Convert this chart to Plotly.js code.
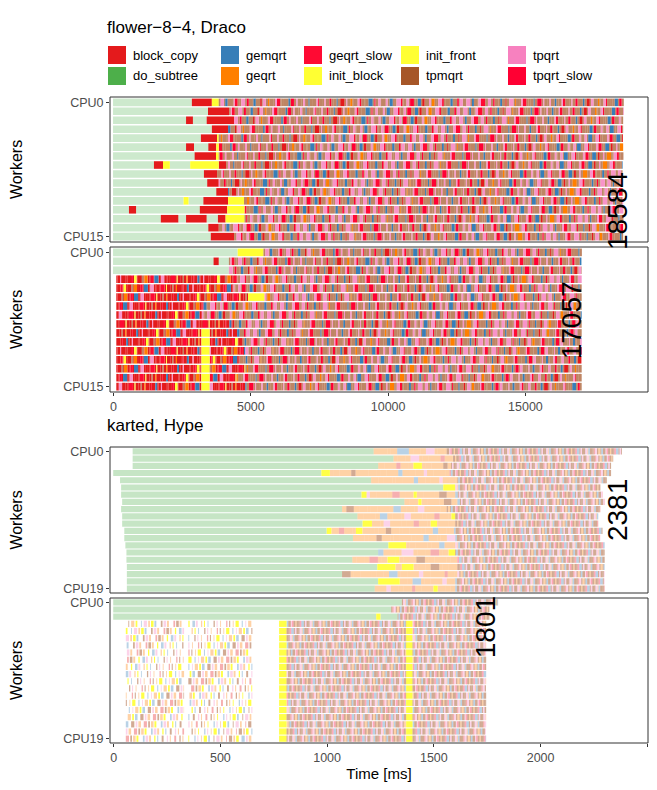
<!DOCTYPE html>
<html>
<head>
<meta charset="utf-8">
<script src="https://cdn.plot.ly/plotly-3.0.1.min.js"></script>
<style>body{margin:0}#plot{width:657px;height:790px}</style>
</head>
<body>
<div id="plot"></div>
<script>
// kernels
const kernelNames = ['block_copy', 'do_subtree', 'gemqrt', 'geqrt', 'geqrt_slow', 'init_block', 'init_front', 'tpmqrt', 'tpqrt', 'tpqrt_slow'];
const kernelCodes = ['b', 'd', 'm', 'g', 's', 'i', 'f', 't', 'p', 'q'];
const kernelColors = ['#E41A1C', '#4DAF4A', '#377EB8', '#FF7F00', '#FF0A33', '#FFFF33', '#FFFF33', '#A65628', '#F781BF', '#FF0033'];

// repeating kernel texture for dense phases (letters = kernel codes, '_' = idle)
const mixM = 'tptmttpsttptqttmtbtptgttpstttmtqtpt';
const widthM = [70, 120, 45, 90, 160, 60, 35, 110, 80, 50, 140, 65];
const mixR = 'bbsbfbbtbgbbsbmbbpbb';
const widthR = [90, 40, 150, 60, 30, 120, 70, 45];
const mixH = 'ggggmgggpgggbggfgggtgg';
const widthH = [25, 40, 15, 30, 55, 20, 35];
const mixD = 'tpgmttbptgtmtpqtgttsmtpt';
const widthD = [6, 10, 4, 8, 12, 5, 7, 9];
const mixS = 'g_f_m__t_p_g__b_t_g_f__m_p_';
const widthS = [5, 12, 4, 9, 15, 6, 8];

// Draco, flower-8-4: row start and phases [code, end ms]
const dracoAStart = [-20, -20, -20, -20, -20, -20, -20, -20, -20, -20, -20, -20, -20, -20, -20, -20];
const dracoAPhases = [
  [['d', 2850], ['b', 3580], ['f', 3830], ['M', 18584]],
  [['d', 3440], ['b', 4210], ['M', 18584]],
  [['d', 2640], ['b', 2890], ['d', 3390], ['b', 4390], ['M', 18560]],
  [['d', 3580], ['b', 4170], ['M', 18560]],
  [['d', 3180], ['b', 3770], ['f', 3830], ['M', 18550]],
  [['d', 2640], ['b', 2930], ['d', 3450], ['b', 3740], ['f', 3830], ['M', 18560]],
  [['d', 2950], ['b', 3730], ['f', 3830], ['M', 18570]],
  [['d', 1470], ['b', 1800], ['f', 2050], ['d', 2790], ['f', 3830], ['b', 4100], ['M', 18540]],
  [['d', 3290], ['b', 3770], ['M', 18540]],
  [['d', 3410], ['b', 3830], ['M', 18520]],
  [['d', 3740], ['b', 4170], ['M', 18560]],
  [['d', 2550], ['f', 2730], ['d', 3270], ['b', 4170], ['f', 4750], ['M', 18560]],
  [['d', 560], ['b', 820], ['d', 3140], ['b', 4140], ['f', 4770], ['M', 18570]],
  [['d', 1720], ['b', 2360], ['d', 2640], ['b', 3390], ['d', 3800], ['b', 4080], ['f', 4770], ['M', 18570]],
  [['d', 3450], ['b', 3830], ['M', 18560]],
  [['d', 3540], ['b', 4390], ['M', 18560]]
];
const dracoBStart = [-20, -20, -20, 100, 100, 100, 100, 100, 100, 100, 100, 100, 100, 100, 100, 100];
const dracoBPhases = [
  [['d', 4520], ['f', 5460], ['M', 17057]],
  [['d', 3640], ['b', 3830], ['d', 4200], ['M', 17050]],
  [['d', 4200], ['M', 17050]],
  [['R', 4520], ['M', 17050]],
  [['R', 4400], ['M', 17050]],
  [['R', 4900], ['f', 5500], ['M', 17050]],
  [['R', 3270], ['M', 17050]],
  [['R', 3270], ['M', 17050]],
  [['R', 4400], ['M', 17050]],
  [['R', 3200], ['f', 3500], ['R', 4500], ['M', 17050]],
  [['R', 3200], ['f', 3500], ['R', 4700], ['M', 17050]],
  [['R', 3200], ['f', 3500], ['R', 4800], ['M', 17050]],
  [['R', 3200], ['f', 3500], ['R', 4600], ['M', 17050]],
  [['R', 3200], ['f', 3500], ['R', 4800], ['M', 17050]],
  [['R', 3200], ['f', 3500], ['R', 4500], ['M', 17050]],
  [['R', 3200], ['f', 3500], ['R', 4800], ['M', 17050]]
];

// Hype, karted
const hypeAStart = [89, 89, 89, -2, 30, 35, 35, 40, 35, 40, 40, 50, 50, 55, 60, 60, 62, 62, 62, 62];
const hypeAPhases = [
  [['d', 1218], ['H', 1560], ['D', 2381]],
  [['d', 1311], ['H', 1590], ['D', 2340]],
  [['d', 1239], ['H', 1580], ['D', 2330]],
  [['d', 973], ['H', 1580], ['D', 2330]],
  [['d', 1206], ['H', 1600], ['D', 2310]],
  [['d', 1544], ['f', 1600], ['D', 2280]],
  [['d', 1161], ['f', 1185], ['H', 1600], ['D', 2290]],
  [['d', 1362], ['H', 1610], ['D', 2300]],
  [['d', 1070], ['H', 1560], ['D', 2280]],
  [['d', 1142], ['H', 1600], ['D', 2270]],
  [['d', 1166], ['f', 1210], ['H', 1600], ['D', 2270]],
  [['d', 998], ['f', 1020], ['H', 1590], ['D', 2290]],
  [['d', 1121], ['H', 1600], ['D', 2280]],
  [['d', 1287], ['f', 1370], ['H', 1600], ['D', 2300]],
  [['d', 1239], ['H', 1600], ['D', 2300]],
  [['d', 1118], ['H', 1610], ['D', 2300]],
  [['d', 1235], ['f', 1320], ['H', 1610], ['D', 2300]],
  [['d', 1070], ['H', 1610], ['D', 2300]],
  [['d', 1239], ['f', 1340], ['H', 1600], ['D', 2300]],
  [['d', 1223], ['H', 1600], ['D', 2300]]
];
const hypeBStart = [-2, -2, -2, 57, 57, 57, 57, 57, 57, 57, 57, 57, 57, 57, 57, 57, 57, 57, 57, 57];
const sparseRow = [['S', 330], ['_', 350], ['S', 650], ['_', 775], ['f', 810], ['D', 1370], ['f', 1400], ['D', 1745]];
const hypeBPhases = [
  [['d', 1350], ['D', 1801]],
  [['d', 1300], ['D', 1760]],
  [['d', 1230], ['f', 1250], ['d', 1330], ['D', 1760]]
].concat(Array(17).fill(sparseRow));

// legend grid, read column-wise like the reference
const legendCols = [['block_copy', 'do_subtree'], ['gemqrt', 'geqrt'], ['geqrt_slow', 'init_block'], ['init_front', 'tpmqrt'], ['tpqrt', 'tpqrt_slow']];

const mixes = {M: [mixM, widthM], R: [mixR, widthR], H: [mixH, widthH], D: [mixD, widthD], S: [mixS, widthS]};

function segments(starts, phases) {
  const segs = [];
  phases.forEach((ph, r) => {
    let x = starts[r];
    let k = r * 5;
    ph.forEach(([code, end]) => {
      if (mixes[code]) {
        const [seq, ws] = mixes[code];
        while (x < end) {
          const w = ws[k % ws.length];
          const c = seq[k % seq.length];
          const e = Math.min(x + w, end);
          if (c !== '_') segs.push([c, x, e, r]);
          x = e;
          k++;
        }
      } else {
        if (code !== '_') segs.push([code, x, end, r]);
        x = end;
      }
    });
  });
  return segs;
}

function hexA(hex, a) {
  const n = parseInt(hex.slice(1), 16);
  return 'rgba(' + (n >> 16) + ',' + ((n >> 8) & 255) + ',' + (n & 255) + ',' + a + ')';
}

const traces = [];
function panel(starts, phases, xa, ya, width, alphas) {
  const segs = segments(starts, phases);
  kernelCodes.forEach((code, i) => {
    const xs = [], ys = [];
    segs.filter(s => s[0] === code).forEach(s => {
      xs.push(s[1], s[2], null);
      ys.push(s[3], s[3], null);
    });
    traces.push({
      x: xs, y: ys, xaxis: xa, yaxis: ya, type: 'scatter', mode: 'lines',
      line: {color: hexA(kernelColors[i], alphas[code] !== undefined ? alphas[code] : alphas.def), width: width},
      showlegend: false, hoverinfo: 'skip'
    });
  });
}

panel(dracoAStart, dracoAPhases, 'x', 'y', 7.6, {def: 1, d: 0.28, t: 0.72, p: 0.85});
panel(dracoBStart, dracoBPhases, 'x', 'y2', 7.6, {def: 1, d: 0.28, t: 0.72, p: 0.85});
panel(hypeAStart, hypeAPhases, 'x2', 'y3', 6.2, {def: 0.35, d: 0.32, f: 0.9, t: 0.5});
panel(hypeBStart, hypeBPhases, 'x2', 'y4', 6.2, {def: 0.35, d: 0.32, f: 0.9, t: 0.5});

const W = 657, H = 790;
const dom = (top, bot) => [(H - bot) / H, (H - top) / H];
const yax = (d, n) => ({
  domain: d, range: [n - 0.4, -0.6], tickvals: [0, n - 1], ticktext: ['CPU0', 'CPU' + (n - 1)],
  showgrid: false, zeroline: false, ticks: 'outside', ticklen: 3, tickcolor: '#333',
  tickfont: {size: 12.5, color: '#4d4d4d'}, title: {text: 'Workers', font: {size: 16, color: '#000'}, standoff: 36}
});
const box = (top, bot) => ({type: 'rect', xref: 'paper', yref: 'paper', x0: 0, x1: 1, y0: (H - bot) / H, y1: (H - top) / H,
  line: {color: '#333', width: 1}});
const annot = (text, xp, yp) => ({text: text, xref: 'paper', yref: 'paper', x: xp, y: yp, showarrow: false,
  textangle: -90, font: {size: 28, color: '#000'}});

// hand-built legend (pixel layout converted into paper coords)
const plotL = 110, plotW = W - 110 - 9;
const px = x => (x - plotL) / plotW, py = y => (H - y) / H;
const colX = [108, 221, 304, 401, 508];
const rowY = [55, 76];
const shapes = [box(97, 242), box(247, 392), box(447, 593), box(598, 743)];
const annotations = [
  {text: 'flower−8−4, Draco', xref: 'paper', yref: 'paper', x: -0.01, y: py(16), xanchor: 'left',
    showarrow: false, font: {size: 17, color: '#000'}},
  {text: 'karted, Hype', xref: 'paper', yref: 'paper', x: -0.01, y: py(425), xanchor: 'left',
    showarrow: false, font: {size: 17, color: '#000'}},
  annot('18584', 0.975, py(170)),
  annot('17057', 0.89, py(320)),
  annot('2381', 0.975, py(510)),
  annot('1801', 0.73, py(660))
];
legendCols.forEach((col, c) => col.forEach((name, r) => {
  const color = kernelColors[kernelNames.indexOf(name)];
  shapes.push({type: 'rect', xref: 'paper', yref: 'paper', x0: px(colX[c]), x1: px(colX[c] + 18),
    y0: py(rowY[r] + 9), y1: py(rowY[r] - 9), fillcolor: color, line: {width: 0}});
  annotations.push({text: name, xref: 'paper', yref: 'paper', x: px(colX[c] + 23), y: py(rowY[r]),
    xanchor: 'left', yanchor: 'middle', showarrow: false, font: {size: 13, color: '#000'}});
}));

const layout = {
  width: W, height: H,
  margin: {l: 110, r: 9, t: 0, b: 0},
  paper_bgcolor: '#fff', plot_bgcolor: '#fff',
  font: {family: 'Liberation Sans, Arial, sans-serif'},
  showlegend: false,
  xaxis: {domain: [0, 1], range: [-130, 19465], anchor: 'y2', tickvals: [0, 5000, 10000, 15000],
    ticktext: ['0', '5000', '10000', '15000'],
    showgrid: false, zeroline: false, ticks: 'outside', ticklen: 3, tickcolor: '#333', tickfont: {size: 12.5, color: '#4d4d4d'}},
  xaxis2: {domain: [0, 1], range: [-17, 2503], anchor: 'y4', tickvals: [0, 500, 1000, 1500, 2000, 2500],
    showgrid: false, zeroline: false, ticks: 'outside', ticklen: 3, tickcolor: '#333', tickfont: {size: 12.5, color: '#4d4d4d'},
    title: {text: 'Time [ms]', font: {size: 15, color: '#000'}, standoff: 4}},
  yaxis: Object.assign(yax(dom(97, 242), 16), {anchor: 'x'}),
  yaxis2: Object.assign(yax(dom(247, 392), 16), {anchor: 'x'}),
  yaxis3: Object.assign(yax(dom(447, 593), 20), {anchor: 'x2'}),
  yaxis4: Object.assign(yax(dom(598, 743), 20), {anchor: 'x2'}),
  shapes: shapes,
  annotations: annotations
};

Plotly.newPlot('plot', traces, layout, {staticPlot: true});
</script>
</body>
</html>
